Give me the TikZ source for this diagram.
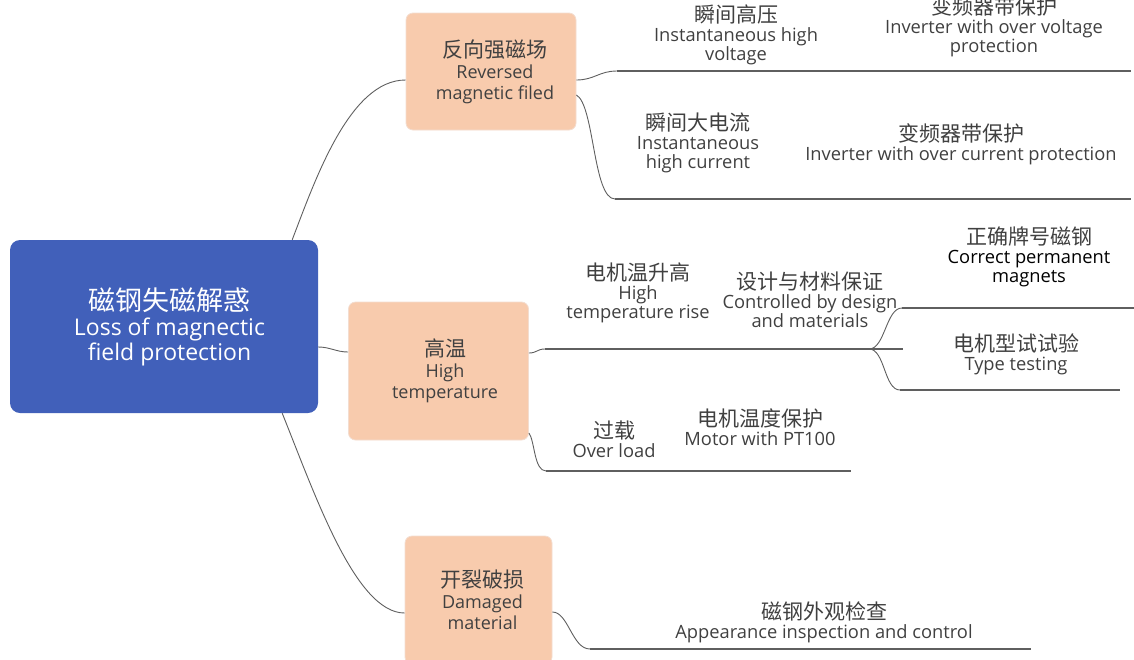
\documentclass[tikz,border=0pt]{standalone}
\usepackage{fontspec}
\setmainfont{Open Sans}
\newfontfamily\zhfont{Noto Sans CJK SC}
\definecolor{rootblue}{HTML}{4160BA}
\definecolor{peach}{HTML}{F8CBAD}
\definecolor{peachedge}{HTML}{F3DDD0}
\definecolor{txtgray}{HTML}{404040}
\definecolor{linegray}{HTML}{5F5F5F}
\newcommand\zh[2][21]{{\zhfont\fontsize{#1}{#1}\selectfont #2}}
\tikzset{
  rootbox/.style={fill=rootblue, rounded corners=10pt, inner sep=0pt,
    minimum width=308pt, minimum height=173pt},
  roottext/.style={text=white, align=center, inner sep=0pt,
    font=\fontsize{23}{25}\selectfont},
  topic/.style={fill=peach, draw=peachedge, line width=0.8pt,
    rounded corners=7pt, inner sep=0pt},
  topictext/.style={align=center, text=txtgray, inner sep=0pt,
    font=\fontsize{18}{21}\selectfont},
  leaf/.style={align=center, text=txtgray, inner sep=0pt,
    font=\fontsize{18.3}{19}\selectfont},
  conn/.style={draw=linegray, line width=0.9pt},
  uline/.style={draw=linegray, line width=2pt},
}
\begin{document}
\begin{tikzpicture}[x=1pt,y=-1pt]
  \useasboundingbox (0,0) rectangle (1134,659);

  % main topic and the three causes
  \node[rootbox, label={[roottext, xshift=5.5pt]center:%
    {\zh[27]{磁钢失磁解惑}\\Loss of magnectic\\field protection}}]
    (root) at (164,326.5) {};
  \node[topic, minimum width=170pt, minimum height=117pt,
    label={[topictext, xshift=4pt]center:{\zh{反向强磁场}\\Reversed\\magnetic filed}}]
    (rev) at (491,71.5) {};
  \node[topic, minimum width=180pt, minimum height=138pt,
    label={[topictext, xshift=6.5pt]center:{\zh{高温}\\High\\temperature}}]
    (heat) at (438.5,371) {};
  \node[topic, minimum width=147pt, minimum height=128pt,
    label={[topictext, xshift=4pt]center:{\zh{开裂破损}\\Damaged\\material}}]
    (dmg) at (478.5,600) {};

  \draw[conn] ([xshift=-26pt]root.north east)
    .. controls +(23,-60) and +(-56,0) .. ([yshift=-8.5pt]rev.west);
  \draw[conn] ([yshift=-20.5pt]root.east)
    .. controls +(12,0) and +(-12,0) .. ([yshift=19pt]heat.west);
  \draw[conn] ([xshift=-36pt]root.south east)
    .. controls +(33,82) and +(-49,0) .. ([yshift=-13pt]dmg.west);

  % reversed field
  \coordinate (volt) at (617,71);
  \coordinate (voltEnd) at (1131,71);
  \coordinate (curr) at (615,199);
  \coordinate (currEnd) at (1131,199);
  \node[leaf] (voltTxt) at (736,35)
    {\zh{瞬间高压}\\Instantaneous high\\voltage};
  \node[leaf] (voltProt) at (994,26.5)
    {\zh{变频器带保护}\\Inverter with over voltage\\protection};
  \node[leaf] (currTxt) at (698,142.5)
    {\zh{瞬间大电流}\\Instantaneous\\high current};
  \node[leaf] (currProt) at (961,144.5)
    {\zh{变频器带保护}\\Inverter with over current protection};
  \draw[conn] ([yshift=-8.5pt]rev.east)
    .. controls +(18,0) and +(-18,0) .. (volt);
  \draw[conn] ([yshift=-23.5pt]rev.east)
    .. controls +(18,10) and +(-22,0) .. (curr);
  \draw[uline] (volt) -- (voltEnd);
  \draw[uline] (curr) -- (currEnd);

  % high temperature
  \coordinate (rise) at (545,349);
  \coordinate (design) at (869,349);
  \coordinate (riseEnd) at (903,349);
  \coordinate (mag) at (902,308);
  \coordinate (magEnd) at (1134,308);
  \coordinate (type) at (900,390);
  \coordinate (typeEnd) at (1120,390);
  \coordinate (load) at (546,471);
  \coordinate (loadEnd) at (851,471);
  \node[leaf] (riseTxt) at (638,293)
    {\zh{电机温升高}\\High\\temperature rise};
  \node[leaf] (designTxt) at (810,300)
    {\zh{设计与材料保证}\\Controlled by design\\and materials};
  \node[leaf, text=black] (magTxt) at (1029,257)
    {\zh{\color{txtgray}正确牌号磁钢}\\Correct permanent\\magnets};
  \node[leaf] (typeTxt) at (1016,354)
    {\zh{电机型试试验}\\Type testing};
  \node[leaf] (loadTxt) at (614,439.5)
    {\zh{过载}\\Over load};
  \node[leaf] (ptTxt) at (760,427)
    {\zh{电机温度保护}\\Motor with PT100};
  \draw[conn] ([yshift=18pt]heat.east)
    .. controls +(8,0) and +(-8,0) .. (rise);
  \draw[conn] ([yshift=-62pt]heat.east)
    .. controls +(6,8) and +(-12,0) .. (load);
  \draw[uline] (rise) -- (riseEnd);
  \draw[conn] (design) .. controls +(16,0) and +(-16,0) .. (mag);
  \draw[conn] (design) .. controls +(16,0) and +(-16,0) .. (type);
  \draw[uline] (mag) -- (magEnd);
  \draw[uline] (type) -- (typeEnd);
  \draw[uline] (load) -- (loadEnd);

  % damaged material
  \coordinate (look) at (590,649);
  \coordinate (lookEnd) at (1031,649);
  \node[leaf] (lookTxt) at (824,622.5)
    {\zh{磁钢外观检查}\\Appearance inspection and control};
  \draw[conn] ([yshift=-12pt]dmg.east)
    .. controls +(16,0) and +(-18,0) .. (look);
  \draw[uline] (look) -- (lookEnd);
\end{tikzpicture}
\end{document}
